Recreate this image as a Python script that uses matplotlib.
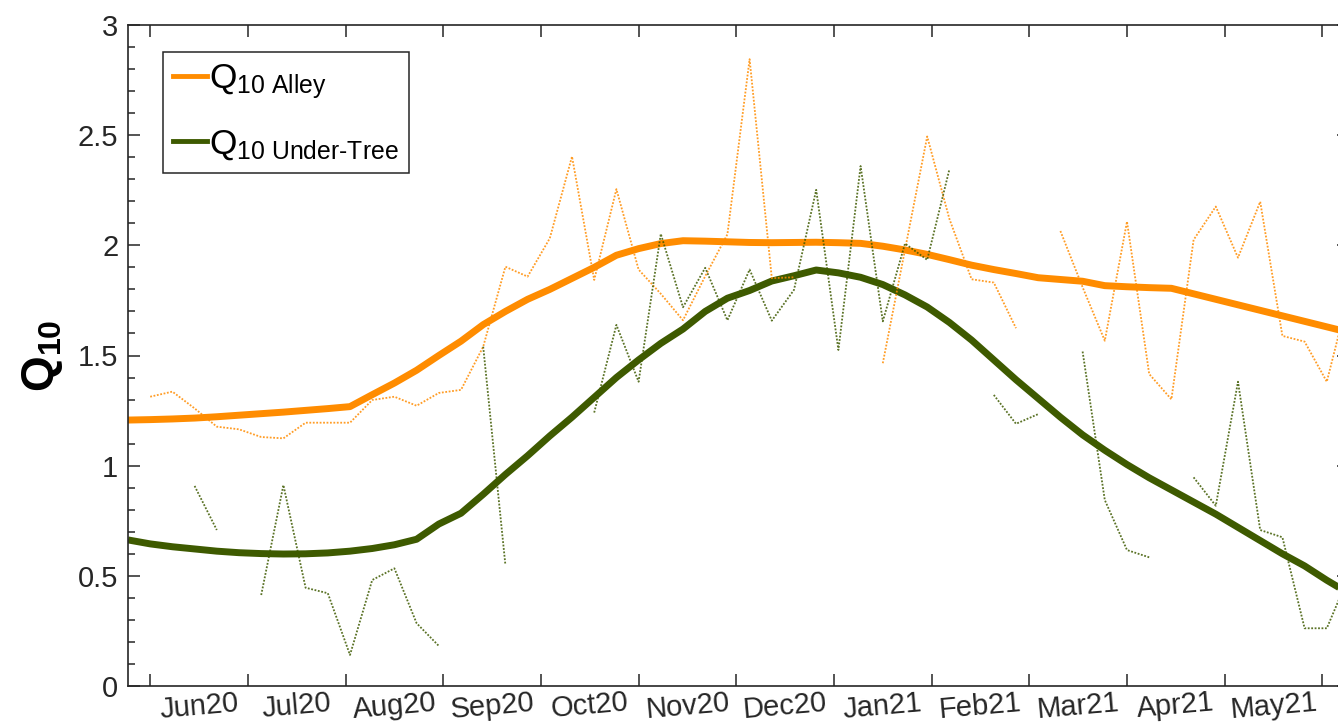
import numpy as np
import matplotlib
matplotlib.use("Agg")
import matplotlib.pyplot as plt
from matplotlib.lines import Line2D

plt.rcParams["font.family"] = ["Liberation Sans", "DejaVu Sans"]
plt.rcParams["mathtext.fontset"] = "custom"
plt.rcParams["mathtext.rm"] = "Liberation Sans"
plt.rcParams["mathtext.bf"] = "Liberation Sans:bold"
plt.rcParams["mathtext.it"] = "Liberation Sans:italic"

# weekly sampling, week 0 = first week of June 2020
weeks = np.arange(-1, 55)
nan = np.nan

# smoothed Q10 (thick lines)
alley_smooth = [1.207, 1.209, 1.212, 1.216, 1.222, 1.229, 1.236, 1.243, 1.251, 1.259,
                1.268, 1.322, 1.375, 1.433, 1.500, 1.565, 1.640, 1.700, 1.755, 1.800,
                1.850, 1.900, 1.955, 1.985, 2.008, 2.021, 2.019, 2.016, 2.013, 2.012,
                2.013, 2.014, 2.012, 2.009, 1.996, 1.979, 1.959, 1.935, 1.910, 1.890,
                1.872, 1.853, 1.845, 1.837, 1.817, 1.812, 1.808, 1.805, 1.780, 1.755,
                1.730, 1.705, 1.680, 1.655, 1.630, 1.605]
tree_smooth = [0.663, 0.645, 0.632, 0.622, 0.612, 0.605, 0.601, 0.599, 0.600, 0.604,
               0.612, 0.624, 0.641, 0.666, 0.735, 0.784, 0.870, 0.960, 1.045, 1.135,
               1.220, 1.310, 1.400, 1.480, 1.555, 1.620, 1.700, 1.760, 1.795, 1.838,
               1.862, 1.888, 1.875, 1.855, 1.822, 1.775, 1.720, 1.650, 1.570, 1.480,
               1.390, 1.305, 1.220, 1.140, 1.070, 1.005, 0.945, 0.890, 0.835, 0.780,
               0.720, 0.660, 0.600, 0.545, 0.480, 0.420]

# weekly Q10 estimates (dotted lines, gaps = missing weeks)
alley_weekly = [nan, 1.313, 1.336, 1.260, 1.177, 1.165, 1.130, 1.124, 1.195, 1.195,
                1.195, 1.298, 1.313, 1.272, 1.330, 1.344, 1.540, 1.903, 1.858, 2.032,
                2.403, 1.843, 2.255, 1.890, 1.780, 1.660, 1.860, 2.050, 2.845, 1.851,
                1.855, nan, nan, nan, 1.465, 1.980, 2.494, 2.120, 1.846, 1.831,
                1.624, nan, 2.065, 1.810, 1.567, 2.108, 1.416, 1.301, 2.025, 2.176,
                1.944, 2.198, 1.589, 1.563, 1.381, 1.780]
tree_weekly = [nan, nan, nan, 0.908, 0.708, nan, 0.413, 0.912, 0.446, 0.421,
               0.141, 0.481, 0.534, 0.285, 0.182, nan, 1.540, 0.549, nan, nan,
               nan, 1.241, 1.639, 1.381, 2.052, 1.719, 1.898, 1.660, 1.890, 1.658,
               1.798, 2.252, 1.525, 2.360, 1.655, 2.008, 1.934, 2.345, nan, 1.321,
               1.190, 1.234, nan, 1.518, 0.844, 0.617, 0.584, nan, 0.947, 0.818,
               1.381, 0.708, 0.675, 0.262, 0.262, 0.500]

month_labels = ["Jun20", "Jul20", "Aug20", "Sep20", "Oct20", "Nov20",
                "Dec20", "Jan21", "Feb21", "Mar21", "Apr21", "May21"]
month_step = 4.4  # weeks between month ticks

ORANGE = "#FF8C00"
GREEN = "#3E5A00"

fig = plt.figure(figsize=(13.38, 7.26), dpi=100)
ax = fig.add_axes([128 / 1338, 40 / 726, 1221 / 1338, 661 / 726])

ax.plot(weeks, alley_smooth, color=ORANGE, lw=5, solid_capstyle="butt", zorder=2)
ax.plot(weeks, tree_smooth, color=GREEN, lw=5, solid_capstyle="butt", zorder=2)
ax.plot(weeks, alley_weekly, color=ORANGE, lw=1.3, alpha=0.85, dashes=(1, 0.9), zorder=3)
ax.plot(weeks, tree_weekly, color=GREEN, lw=1.3, alpha=0.85, dashes=(1, 0.9), zorder=3)

ax.set_xlim(-1, 54)
ax.set_ylim(0, 3)

ax.set_xticks(np.arange(13) * month_step)
ax.set_xticks((np.arange(12) + 0.5) * month_step, minor=True)
ax.set_xticklabels([])
ax.set_xticklabels(month_labels, minor=True, rotation=5, fontsize=21)
ax.tick_params(axis="x", which="major", direction="in", length=8.6, width=1.1,
               top=True, bottom=True, color="#262626")
ax.tick_params(axis="x", which="minor", length=0, pad=2, colors="#262626")

ax.set_yticks(np.arange(0, 3.01, 0.5))
ax.set_yticklabels(["0", "0.5", "1", "1.5", "2", "2.5", "3"])
ax.set_yticks(np.arange(0, 3.001, 0.1), minor=True)
ax.tick_params(axis="y", which="major", direction="in", length=8.6, width=1.1,
               left=True, right=True, labelsize=21, pad=7, colors="#262626")
ax.tick_params(axis="y", which="minor", direction="in", length=5, width=1.1,
               left=True, right=True, color="#262626")

for sp in ax.spines.values():
    sp.set_color("#262626")
    sp.set_linewidth(1.2)

ax.set_ylabel(r"$\mathbf{Q_{10}}$", fontsize=33, color="#000000")
ax.yaxis.set_label_coords(-0.0516, 0.5)

handles = [Line2D([], [], color=ORANGE, lw=3.5),
           Line2D([], [], color=GREEN, lw=3.5)]
labels = [r"$\mathregular{Q_{10\ Alley}}$", r"$\mathregular{Q_{10\ Under\text{-}Tree}}$"]
leg = ax.legend(handles, labels, loc="upper left", bbox_to_anchor=(0.0284, 0.9596),
                borderaxespad=0, fontsize=25.5, handlelength=0.95, handletextpad=0.05,
                borderpad=0.3, labelspacing=0.75, fancybox=False, framealpha=1)
leg.get_frame().set_edgecolor("#262626")
leg.get_frame().set_linewidth(1.1)

fig.savefig("out.png", dpi=100)
